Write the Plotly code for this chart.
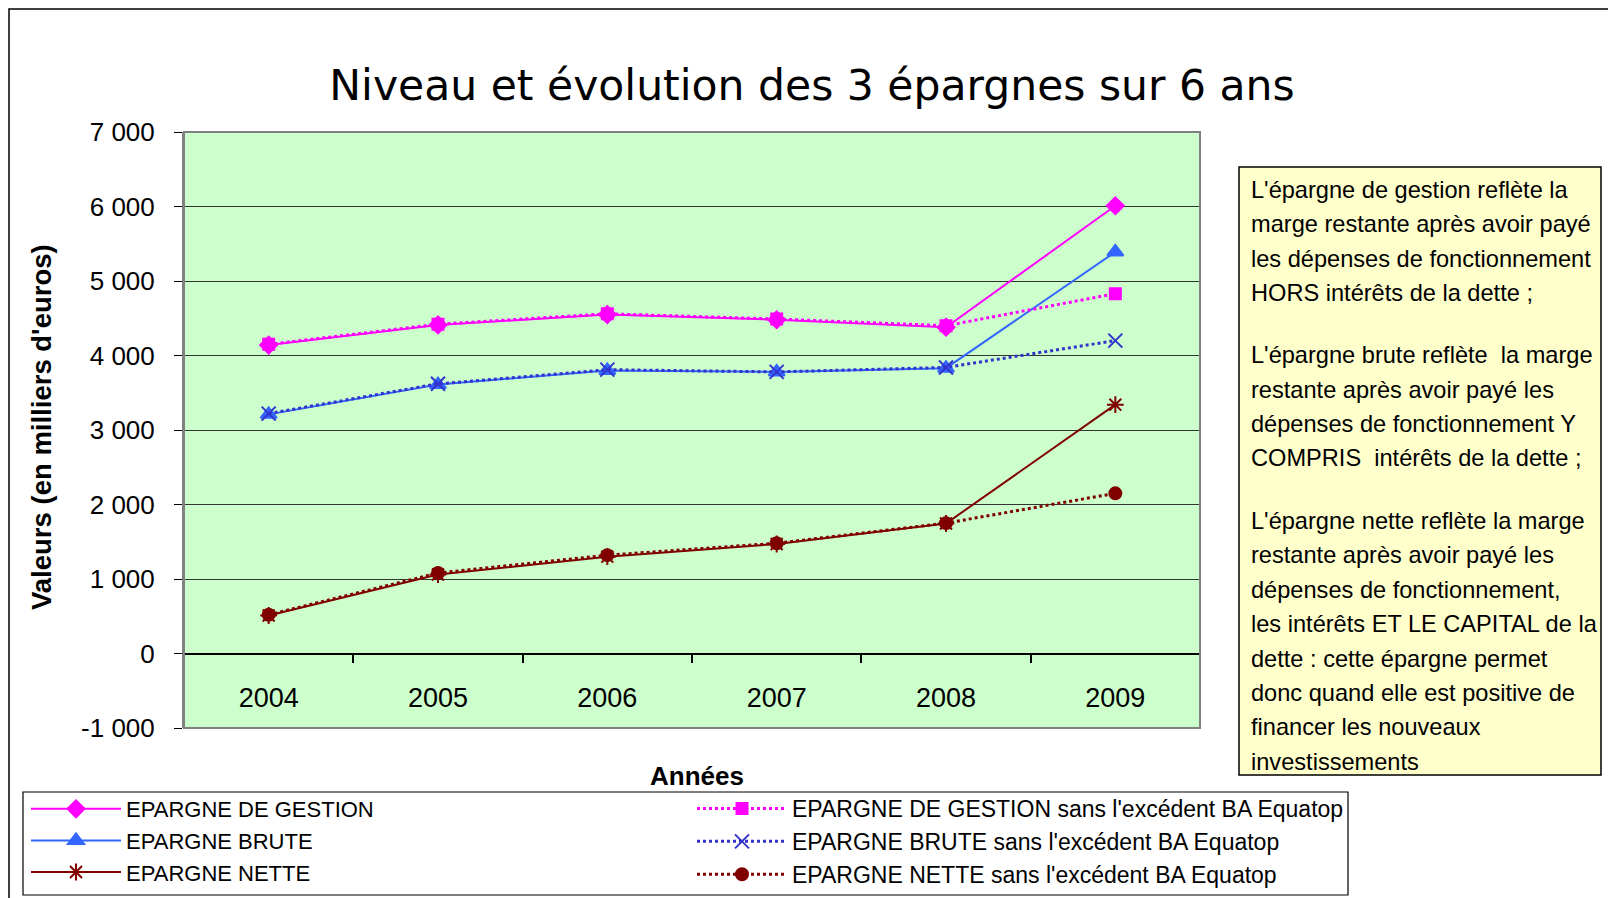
import plotly.graph_objects as go

# ---- data (in thousands of euros) ----
years = ['2004', '2005', '2006', '2007', '2008', '2009']
gestion = [4140, 4410, 4550, 4480, 4380, 6010]
gestion_sans = [4150, 4420, 4560, 4490, 4400, 4830]
brute = [3210, 3610, 3800, 3780, 3830, 5390]
brute_sans = [3220, 3620, 3810, 3780, 3840, 4200]
nette = [510, 1060, 1300, 1470, 1745, 3340]
nette_sans = [520, 1080, 1320, 1480, 1750, 2150]

y_ticks = [-1000, 0, 1000, 2000, 3000, 4000, 5000, 6000, 7000]
y_ticktext = ['-1 000', '0', '1 000', '2 000', '3 000', '4 000', '5 000', '6 000', '7 000']

note_paragraphs = [
    ["L'épargne de gestion reflète la",
     "marge restante après avoir payé",
     "les dépenses de fonctionnement",
     "HORS intérêts de la dette ;"],
    ["L'épargne brute reflète  la marge",
     "restante après avoir payé les",
     "dépenses de fonctionnement Y",
     "COMPRIS  intérêts de la dette ;"],
    ["L'épargne nette reflète la marge",
     "restante après avoir payé les",
     "dépenses de fonctionnement,",
     "les intérêts ET LE CAPITAL de la",
     "dette : cette épargne permet",
     "donc quand elle est positive de",
     "financer les nouveaux",
     "investissements"],
]

# ---- page geometry (pixels) ----
W, H = 1608, 898
PL, PR, PT, PB = 184, 1200, 132, 728   # plot area edges
FONT = 'Liberation Sans, Arial, sans-serif'


def px_x(px):
    return (px - PL) / (PR - PL)


def px_y(py):
    return (PB - py) / (PB - PT)


fig = go.Figure()

# name, values, colour, dash, width, symbol, size, legend column
series = [
    ('EPARGNE DE GESTION', gestion, '#FF00FF', 'solid', 2, 'diamond', 13, 'legend'),
    ('EPARGNE BRUTE', brute, '#3366FF', 'solid', 2, 'triangle-up', 14, 'legend'),
    ('EPARGNE NETTE', nette, '#800000', 'solid', 2, 'asterisk-open', 14, 'legend'),
    ("EPARGNE DE GESTION sans l'excédent BA Equatop", gestion_sans, '#FF00FF', 'dot', 3, 'square', 11, 'legend2'),
    ("EPARGNE BRUTE sans l'excédent BA Equatop", brute_sans, '#3333CC', 'dot', 3, 'x-thin-open', 14, 'legend2'),
    ("EPARGNE NETTE sans l'excédent BA Equatop", nette_sans, '#800000', 'dot', 3, 'circle', 12, 'legend2'),
]

for name, vals, color, dash, width, symbol, size, leg in series:
    fig.add_trace(go.Scatter(
        x=years,
        y=vals,
        mode='lines+markers',
        name=name,
        legend=leg,
        line=dict(color=color, width=width, dash=dash),
        marker=dict(symbol=symbol, size=size, color=color,
                    line=dict(color=color, width=2)),
    ))

# outer chart frame
fig.add_shape(type='rect', xref='paper', yref='paper',
              x0=px_x(9), x1=px_x(1620), y0=px_y(910), y1=px_y(9),
              line=dict(color='#000000', width=1.5), layer='below')

# plot area border
fig.add_shape(type='rect', xref='paper', yref='paper',
              x0=0, x1=1, y0=0, y1=1,
              line=dict(color='#808080', width=2), layer='above')

# legend frame (two legend columns sit inside it)
fig.add_shape(type='rect', xref='paper', yref='paper',
              x0=px_x(23), x1=px_x(1348), y0=px_y(895), y1=px_y(792),
              line=dict(color='#000000', width=1.2), fillcolor='#FFFFFF')

# explanatory note box
fig.add_shape(type='rect', xref='paper', yref='paper',
              x0=px_x(1239), x1=px_x(1601), y0=px_y(775), y1=px_y(167),
              line=dict(color='#000000', width=1.5), fillcolor='#FFFFCC')

line_no = 0
for p, para in enumerate(note_paragraphs):
    for txt in para:
        yc = 189.7 + 34.4 * line_no + 28 * p
        fig.add_annotation(
            x=px_x(1249), y=px_y(yc), xref='paper', yref='paper',
            text=txt, showarrow=False, xanchor='left', yanchor='middle',
            font=dict(family=FONT, size=23.6, color='#000000'))
        line_no += 1

# axis titles
fig.add_annotation(
    x=px_x(41), y=px_y(427), xref='paper', yref='paper',
    xanchor='center', yanchor='middle',
    text='<b>Valeurs (en milliers d\'euros)</b>', textangle=-90, showarrow=False,
    font=dict(family=FONT, size=27.5, color='#000000'))
fig.add_annotation(
    x=px_x(697), y=px_y(776), xref='paper', yref='paper',
    xanchor='center', yanchor='middle',
    text='<b>Années</b>', showarrow=False,
    font=dict(family=FONT, size=26, color='#000000'))


def legend_style(size):
    return dict(
        orientation='v',
        xref='container', yref='container',
        xanchor='left', yanchor='top',
        bgcolor='rgba(0,0,0,0)', borderwidth=0,
        font=dict(family=FONT, size=size, color='#000000'),
        itemwidth=90,
        tracegroupgap=0,
        traceorder='normal',
    )


fig.update_layout(
    width=W,
    height=H,
    margin=dict(l=PL, r=W - PR, t=PT, b=H - PB, autoexpand=False),
    paper_bgcolor='#FFFFFF',
    plot_bgcolor='#CCFFCC',
    font=dict(family=FONT, color='#000000'),
    title=dict(
        text='Niveau et évolution des 3 épargnes sur 6 ans',
        x=812 / W, xref='container', xanchor='center',
        y=1 - 85 / H, yref='container', yanchor='middle',
        font=dict(family='DejaVu Sans, Verdana, sans-serif', size=42.5, color='#000000'),
    ),
    showlegend=True,
    legend=dict(x=26 / W, y=1 - 788 / H, **legend_style(22)),
    legend2=dict(x=692 / W, y=1 - 787 / H, **legend_style(23)),
    xaxis=dict(
        type='category',
        range=[-0.5, 5.5],
        anchor='free',
        position=1 / 8,
        showline=True, linecolor='#000000', linewidth=1.5,
        ticks='outside', tickson='boundaries', ticklen=9,
        tickcolor='#000000', tickwidth=1.5,
        ticklabelstandoff=20,
        showgrid=False,
        tickfont=dict(family=FONT, size=27, color='#000000'),
    ),
    yaxis=dict(
        range=[-1000, 7000],
        tickvals=y_ticks,
        ticktext=y_ticktext,
        showgrid=True, gridcolor='#333333', gridwidth=1,
        zeroline=False,
        showline=True, linecolor='#808080', linewidth=2,
        ticks='outside', ticklen=8, tickcolor='#000000',
        ticklabelstandoff=14,
        tickfont=dict(family=FONT, size=26, color='#000000'),
    ),
)

fig.write_html("out.html", config={'displayModeBar': False},
               post_script="document.body.style.margin='0';")
